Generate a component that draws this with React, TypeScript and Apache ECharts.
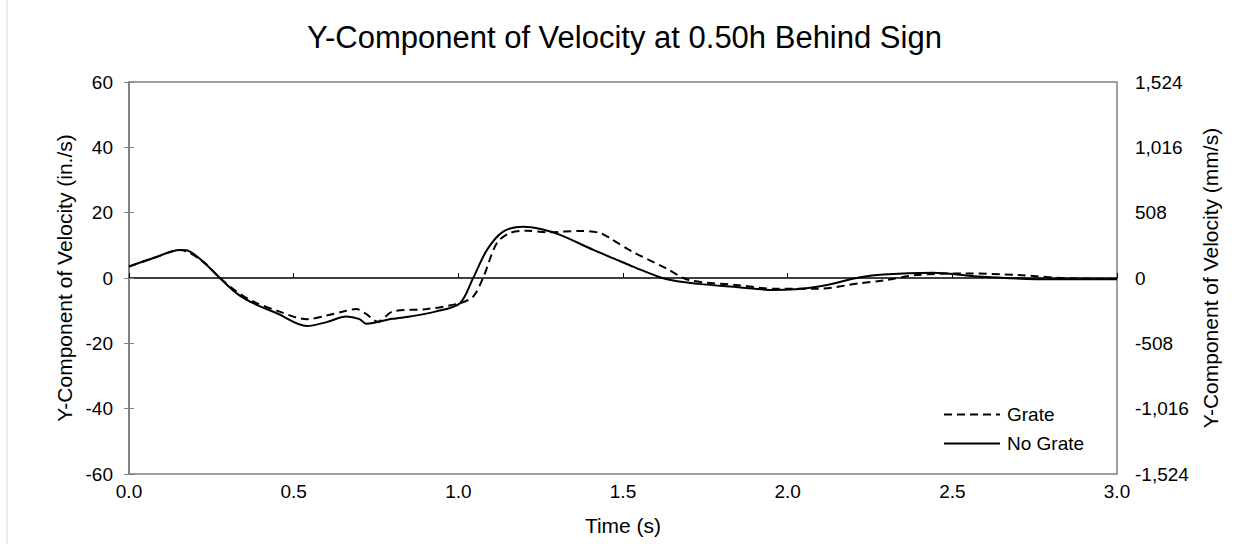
import React, { useEffect, useRef } from "react";
import * as echarts from "echarts";

const titleText = "Y-Component of Velocity at 0.50h Behind Sign";
const xTickLabels = ["0.0", "0.5", "1.0", "1.5", "2.0", "2.5", "3.0"];

const timeGrate = [0, 0.074, 0.155, 0.225, 0.276, 0.327, 0.377, 0.449, 0.54, 0.6, 0.66, 0.69, 0.72, 0.755, 0.8, 0.905, 1.005, 1.045, 1.075, 1.117, 1.157, 1.208, 1.27, 1.37, 1.43, 1.46, 1.53, 1.63, 1.7, 1.85, 1.96, 2.09, 2.22, 2.29, 2.39, 2.54, 2.7, 2.85, 3.0];
const grate = [3.5, 6.1, 8.6, 5.0, 0, -4.2, -7.2, -10, -12.6, -11.5, -10, -9.5, -11, -13.4, -10.3, -9.5, -7.7, -5.7, 0, 10.7, 13.8, 14.5, 14, 14.4, 13.8, 12.2, 8, 3, -0.6, -2.2, -3.3, -3.3, -1.6, -0.8, 0.9, 1.4, 0.9, -0.1, -0.3];

const timeNoGrate = [0, 0.074, 0.155, 0.175, 0.225, 0.276, 0.327, 0.377, 0.449, 0.54, 0.6, 0.66, 0.7, 0.72, 0.74, 0.8, 0.853, 0.93, 1.005, 1.045, 1.087, 1.136, 1.197, 1.25, 1.309, 1.41, 1.49, 1.53, 1.63, 1.73, 1.85, 1.96, 2.09, 2.22, 2.29, 2.44, 2.59, 2.8, 3.0];
const noGrate = [3.5, 6.1, 8.6, 8.5, 5.0, 0, -4.7, -7.7, -10.8, -14.7, -13.5, -11.8, -12.6, -14, -13.8, -12.5, -11.8, -10.3, -7.7, 0, 8.6, 14.2, 15.7, 15, 13.2, 8.6, 5.2, 3.5, -0.3, -1.8, -2.8, -3.7, -2.7, 0.2, 1.1, 1.6, 0.4, -0.4, -0.4];

const pairs = (t: number[], v: number[]) => t.map((x, i) => [x, v[i]]);
const fmtComma = (v: number) => v.toLocaleString("en-US");

export default function App() {
  const ref = useRef<HTMLDivElement>(null);
  useEffect(() => {
    if (!ref.current) return;
    const chart = echarts.init(ref.current, null, { renderer: "svg" });
    const font = "Liberation Sans, Arial, sans-serif";
    const fs = 19;
    const nfs = 21;
    chart.setOption({
      animation: false,
      textStyle: { fontFamily: font, color: "#000" },
      title: {
        text: titleText,
        left: "center",
        top: 17,
        textStyle: { fontFamily: font, fontSize: 31, fontWeight: "normal", color: "#000" },
      },
      graphic: [
        { type: "line", shape: { x1: 7, y1: 0, x2: 7, y2: 544 }, style: { stroke: "#d9d9d9", lineWidth: 1 } },
      ],
      grid: { left: 129, right: 132, top: 82, bottom: 70, show: true, borderColor: "#808080", borderWidth: 1.5 },
      legend: {
        orient: "vertical",
        left: 938,
        top: 400,
        itemWidth: 56,
        itemHeight: 14,
        itemGap: 10,
        itemStyle: { opacity: 0 },
        textStyle: { fontFamily: font, fontSize: fs, color: "#000", padding: [0, 0, 0, 2] },
        data: ["Grate", "No Grate"],
      },
      xAxis: [
        {
          type: "value",
          min: 0,
          max: 3,
          interval: 0.5,
          position: "bottom",
          axisLine: { show: false, onZero: false },
          axisTick: { show: false },
          splitLine: { show: false },
          axisLabel: {
            fontSize: fs,
            color: "#000",
            margin: 8,
            formatter: (v: number) => xTickLabels[Math.round(v / 0.5)] ?? v.toFixed(1),
          },
          name: "Time (s)",
          nameLocation: "middle",
          nameGap: 41,
          nameTextStyle: { fontSize: nfs, color: "#000" },
        },
        {
          type: "value",
          min: 0,
          max: 3,
          interval: 0.5,
          position: "top",
          axisLine: { show: true, onZero: true, onZeroAxisIndex: 0, lineStyle: { color: "#000", width: 1.5 } },
          axisTick: { show: true, inside: false, length: 5, lineStyle: { color: "#000" } },
          axisLabel: { show: false },
          splitLine: { show: false },
        },
      ],
      yAxis: [
        {
          type: "value",
          min: -60,
          max: 60,
          interval: 20,
          position: "left",
          axisLine: { show: true, lineStyle: { color: "#808080", width: 1.5 } },
          axisTick: { show: true, inside: true, length: 5, lineStyle: { color: "#808080" } },
          splitLine: { show: false },
          axisLabel: { fontSize: fs, color: "#000", margin: 16 },
          name: "Y-Component of Velocity (in./s)",
          nameLocation: "middle",
          nameGap: 54,
          nameRotate: 90,
          nameTextStyle: { fontSize: nfs, color: "#000" },
        },
        {
          type: "value",
          min: -1524,
          max: 1524,
          interval: 508,
          position: "right",
          axisLine: { show: true, lineStyle: { color: "#808080", width: 1.5 } },
          axisTick: { show: true, inside: true, length: 5, lineStyle: { color: "#808080" } },
          splitLine: { show: false },
          axisLabel: { fontSize: fs, color: "#000", margin: 18, formatter: fmtComma },
          name: "Y-Component of Velocity (mm/s)",
          nameLocation: "middle",
          nameGap: 82,
          nameRotate: 90,
          nameTextStyle: { fontSize: nfs, color: "#000" },
        },
      ],
      series: [
        {
          name: "Grate",
          type: "line",
          xAxisIndex: 0,
          yAxisIndex: 0,
          data: pairs(timeGrate, grate),
          smooth: 0.3,
          symbol: "none",
          lineStyle: { color: "#000", width: 2, type: [8, 5] },
          itemStyle: { color: "#000" },
        },
        {
          name: "No Grate",
          type: "line",
          xAxisIndex: 0,
          yAxisIndex: 0,
          data: pairs(timeNoGrate, noGrate),
          smooth: 0.3,
          symbol: "none",
          lineStyle: { color: "#000", width: 2, type: "solid" },
          itemStyle: { color: "#000" },
        },
      ],
    });
    return () => chart.dispose();
  }, []);
  return (
    <div
      ref={ref}
      style={{ position: "fixed", left: 0, top: 0, width: 1249, height: 544, background: "#fff" }}
    />
  );
}
